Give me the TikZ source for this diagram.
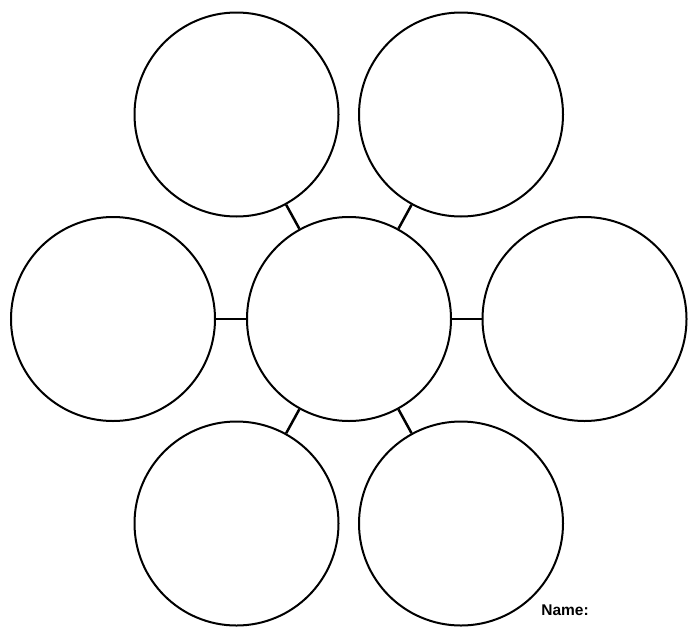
\documentclass[tikz,border=0pt]{standalone}
\usepackage{fontspec}
\setmainfont{Liberation Sans}
\begin{document}
\begin{tikzpicture}[x=1pt,y=-1pt]
\tikzstyle{bubble}=[circle,draw,black,line width=2pt,minimum size=204pt,inner sep=0pt]
\tikzstyle{link}=[draw,black,line width=2.5pt]
\useasboundingbox[fill=white] (0,0) rectangle (700,640);
\node[bubble](C) at (349,319) {};
\node[bubble](TL) at (236.5,114.5) {};
\node[bubble](TR) at (461,114.5) {};
\node[bubble](L) at (113,319) {};
\node[bubble](R) at (584.5,319) {};
\node[bubble](BL) at (236.5,523.5) {};
\node[bubble](BR) at (461,523.5) {};
\node[font=\bfseries\fontsize{15.5}{18}\selectfont](N) at (565,610) {Name:};

\path (C) edge[link] (TL) % links
      (C) edge[link] (TR)
      (C) edge[link] (L)
      (C) edge[link] (R)
      (C) edge[link] (BL)
      (C) edge[link] (BR);

\end{tikzpicture}
\end{document}
